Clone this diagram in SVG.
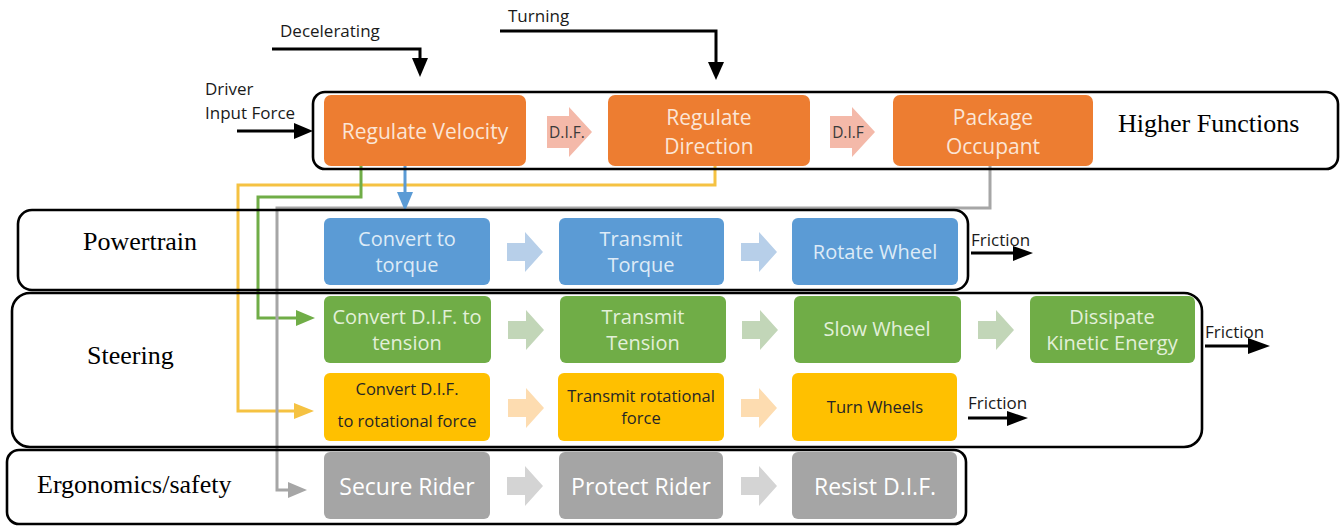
<svg xmlns="http://www.w3.org/2000/svg" xmlns:xlink="http://www.w3.org/1999/xlink" width="1341" height="527" viewBox="0 0 1341 527">
<style>
.t{font-family:"Open Sans","Liberation Sans",sans-serif;text-anchor:middle}
.lab{font-family:"Open Sans","Liberation Sans",sans-serif;font-size:17px;fill:#1a1a1a}
.grp{font-family:"Liberation Serif","Times New Roman",serif;font-size:26px;fill:#000}
.frame{fill:none;stroke:#000;stroke-width:2.6}
.or{fill:#ed7d31}.bl{fill:#5b9bd5}.gr{fill:#70ad47}.ye{fill:#ffc000}.gy{fill:#a5a5a5}
.tor{fill:#fbe5d6;font-size:21px}.tbl{fill:#deebf7;font-size:20px}.tgr{fill:#e2f0d9;font-size:20px}
.tye{fill:#262626;font-size:16.5px}.tgy{fill:#ffffff;font-size:23px}
.dif{font-family:"Open Sans","Liberation Sans",sans-serif;font-size:15.5px;fill:#3a3a3a;text-anchor:middle}
.blk{fill:none;stroke:#000;stroke-width:3}
.ah{fill:#000}
.c{fill:none;stroke-width:3;stroke-linejoin:miter}
</style>
<defs>
<path id="chev" d="M0,-9 H18 V-20 L36,0 L18,20 V9 H0 Z"/>
<path id="big" d="M0,-16 H22 V-25 L45,0 L22,25 V16 H0 Z"/>
</defs>

<!-- connectors -->
<g id="connectors">
  <path class="c" stroke="#f5c242" d="M715,166 V185 H238 V411 H296"/>
  <polygon fill="#f5c242" points="294,403 294,419 314,411"/>
  <path class="c" stroke="#70ad47" d="M361,166 V197 H258 V318 H298"/>
  <polygon fill="#70ad47" points="296,310 296,326 315,318"/>
  <path class="c" stroke="#a6a6a6" d="M990,166 V208 H277 V490 H290"/>
  <polygon fill="#a6a6a6" points="288,482 288,498 307,490"/>
  <path class="c" stroke="#5b9bd5" stroke-width="2.5" d="M405,166 V194"/>
  <polygon fill="#5b9bd5" points="397,192 413,192 405,211"/>

  <path class="blk" d="M272,49 H420 V60"/>
  <polygon class="ah" points="412,58 428,58 420,77"/>
  <path class="blk" d="M500,31 H716 V64"/>
  <polygon class="ah" points="708,62 724,62 716,80"/>
  <path class="blk" d="M237,131 H296"/>
  <polygon class="ah" points="294,123 294,139 313,131"/>

  <path class="blk" d="M971,253 H1015"/>
  <polygon class="ah" points="1013,246 1013,261 1033,253"/>
  <path class="blk" d="M1205,346 H1250"/>
  <polygon class="ah" points="1248,338 1248,354 1270,346"/>
  <path class="blk" d="M968,418 H1009"/>
  <polygon class="ah" points="1007,411 1007,426 1028,418"/>

  <use xlink:href="#big" transform="translate(547,132)" fill="#f4b9a9"/>
  <use xlink:href="#big" transform="translate(830,132)" fill="#f4b9a9"/>
  <use xlink:href="#chev" transform="translate(507,252)" fill="#b7cfe9"/>
  <use xlink:href="#chev" transform="translate(741,252)" fill="#b7cfe9"/>
  <use xlink:href="#chev" transform="translate(508,330)" fill="#c2d6b8"/>
  <use xlink:href="#chev" transform="translate(742,330)" fill="#c2d6b8"/>
  <use xlink:href="#chev" transform="translate(978,330)" fill="#c2d6b8"/>
  <use xlink:href="#chev" transform="translate(508,408)" fill="#fddcb0"/>
  <use xlink:href="#chev" transform="translate(741,408)" fill="#fddcb0"/>
  <use xlink:href="#chev" transform="translate(507,486)" fill="#d4d4d4"/>
  <use xlink:href="#chev" transform="translate(741,486)" fill="#d4d4d4"/>
</g>

<!-- labels -->
<text class="lab" x="280" y="37">Decelerating</text>
<text class="lab" x="508" y="22">Turning</text>
<text class="lab" x="205" y="95">Driver</text>
<text class="lab" x="205" y="119">Input Force</text>
<text class="lab" x="971" y="246">Friction</text>
<text class="lab" x="1205" y="338">Friction</text>
<text class="lab" x="968" y="409">Friction</text>
<text class="dif" x="567" y="138">D.I.F.</text>
<text class="dif" x="848" y="138">D.I.F</text>

<!-- group frames -->
<g id="higher-functions">
  <rect class="frame" x="313" y="92" width="1025" height="77" rx="12"/>
  <text class="grp" x="1118" y="132">Higher Functions</text>
</g>
<g id="powertrain">
  <rect class="frame" x="18" y="210" width="950" height="80" rx="14"/>
  <text class="grp" x="83" y="250">Powertrain</text>
</g>
<g id="steering">
  <rect class="frame" x="12" y="293" width="1190" height="154" rx="18"/>
  <text class="grp" x="87" y="364">Steering</text>
</g>
<g id="ergonomics">
  <rect class="frame" x="7" y="450" width="959" height="74" rx="12"/>
  <text class="grp" x="37" y="493">Ergonomics/safety</text>
</g>

<!-- nodes -->
<g id="regulate-velocity"><rect class="or" x="324" y="95" width="202" height="71" rx="7"/><text class="t tor" x="425" y="139">Regulate Velocity</text></g>
<g id="regulate-direction"><rect class="or" x="608" y="95" width="202" height="71" rx="7"/><text class="t tor" x="709" y="125">Regulate</text><text class="t tor" x="709" y="154">Direction</text></g>
<g id="package-occupant"><rect class="or" x="893" y="95" width="200" height="71" rx="7"/><text class="t tor" x="993" y="125">Package</text><text class="t tor" x="993" y="154">Occupant</text></g>

<g id="convert-torque"><rect class="bl" x="324" y="218" width="166" height="67" rx="6"/><text class="t tbl" x="407" y="246">Convert to</text><text class="t tbl" x="407" y="272">torque</text></g>
<g id="transmit-torque"><rect class="bl" x="559" y="218" width="165" height="67" rx="6"/><text class="t tbl" x="641" y="246">Transmit</text><text class="t tbl" x="641" y="272">Torque</text></g>
<g id="rotate-wheel"><rect class="bl" x="792" y="218" width="166" height="67" rx="6"/><text class="t tbl" x="875" y="259">Rotate Wheel</text></g>

<g id="convert-tension"><rect class="gr" x="324" y="296" width="167" height="67" rx="6"/><text class="t tgr" x="407" y="324">Convert D.I.F. to</text><text class="t tgr" x="407" y="350">tension</text></g>
<g id="transmit-tension"><rect class="gr" x="560" y="296" width="166" height="67" rx="6"/><text class="t tgr" x="643" y="324">Transmit</text><text class="t tgr" x="643" y="350">Tension</text></g>
<g id="slow-wheel"><rect class="gr" x="794" y="296" width="167" height="67" rx="6"/><text class="t tgr" x="877" y="336">Slow Wheel</text></g>
<g id="dissipate"><rect class="gr" x="1030" y="296" width="165" height="67" rx="6"/><text class="t tgr" x="1112" y="324">Dissipate</text><text class="t tgr" x="1112" y="350">Kinetic Energy</text></g>

<g id="convert-rotational"><rect class="ye" x="324" y="373" width="166" height="68" rx="6"/><text class="t tye" x="407" y="395">Convert D.I.F.</text><text class="t tye" x="407" y="427">to rotational force</text></g>
<g id="transmit-rotational"><rect class="ye" x="558" y="373" width="166" height="68" rx="6"/><text class="t tye" x="641" y="402">Transmit rotational</text><text class="t tye" x="641" y="424">force</text></g>
<g id="turn-wheels"><rect class="ye" x="792" y="373" width="165" height="68" rx="6"/><text class="t tye" x="875" y="413">Turn Wheels</text></g>

<g id="secure-rider"><rect class="gy" x="324" y="452" width="166" height="67" rx="6"/><text class="t tgy" x="407" y="495">Secure Rider</text></g>
<g id="protect-rider"><rect class="gy" x="559" y="452" width="164" height="67" rx="6"/><text class="t tgy" x="641" y="495">Protect Rider</text></g>
<g id="resist-dif"><rect class="gy" x="792" y="452" width="165" height="67" rx="6"/><text class="t tgy" x="875" y="495">Resist D.I.F.</text></g>
</svg>
